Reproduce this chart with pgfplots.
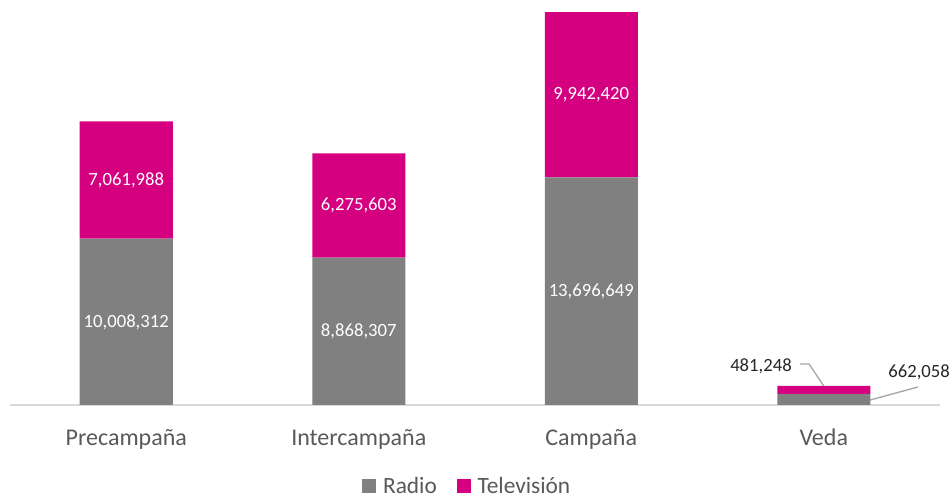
\documentclass[border=0pt]{standalone}
\usepackage{fontspec}
\setmainfont{Carlito}
\usepackage{pgfplots}
\pgfplotsset{compat=1.18}
\definecolor{radio}{HTML}{808080}
\definecolor{tele}{HTML}{D5007F}
\definecolor{txt}{HTML}{595959}
\definecolor{axisgray}{HTML}{D9D9D9}
\definecolor{leader}{HTML}{A6A6A6}
\tikzset{lbl/.style={font=\fontsize{14}{16}\selectfont, text=white},
         olbl/.style={font=\fontsize{14}{16}\selectfont, text=black!85}}

\begin{document}
\begin{tikzpicture}
\begin{axis}[
    at={(0pt,0pt)}, anchor=south west,
    scale only axis, width=697.5pt, height=300pt,
    ybar stacked, bar width=69.75pt,
    xmin=-0.5, xmax=3.5, ymin=0, ymax=24070000,
    axis x line*=bottom, axis y line=none,
    x axis line style={draw=axisgray, line width=1pt, -},
    xtick={0,1,2,3},
    xticklabels={Precampaña,Intercampaña,Campaña,Veda},
    major tick length=0pt,
    xticklabel style={font=\fontsize{18}{20}\selectfont, text=txt, yshift=-14.5pt},
    ytick=\empty, scaled y ticks=false,
    clip=false,
    legend style={at={(axis description cs:0.4914,-0.203)}, anchor=center,
        draw=none, inner sep=0pt, legend columns=2, font=\fontsize{17.5}{19}\selectfont, text=txt,
        nodes={inner sep=1pt},
        /tikz/every even column/.append style={column sep=14pt}},
    legend image code/.code={\fill[#1,draw=none] (0pt,-5.25pt) rectangle (10.5pt,5.25pt);},
]
\addplot[fill=radio, draw=none] coordinates {(0,10008312) (1,8868307) (2,13696649) (3,662058)};
\addlegendentry{\hspace{4pt}Radio}
\addplot[fill=tele, draw=none] coordinates {(0,7061988) (1,6275603) (2,9942420) (3,481248)};
\addlegendentry{\hspace{4pt}Televisión}

\coordinate (r0) at (axis cs:0,5004156);
\coordinate (t0) at (axis cs:0,13539306);
\coordinate (r1) at (axis cs:1,4434154);
\coordinate (t1) at (axis cs:1,12006109);
\coordinate (r2) at (axis cs:2,6848325);
\coordinate (t2) at (axis cs:2,18667859);

\draw[leader, line width=1pt] (axis cs:2.898,2467000) -- (axis cs:2.937,2467000) -- (axis cs:3.0,1143306);
\draw[leader, line width=1pt] (axis cs:3.2,300000) -- (axis cs:3.405,1083000);
\node[olbl] at (axis cs:2.730,2347000) {481,248};
\node[olbl] at (axis cs:3.41,1985000) {662,058};
\end{axis}
\node[lbl] at (r0) {10,008,312};
\node[lbl] at (t0) {7,061,988};
\node[lbl] at (r1) {8,868,307};
\node[lbl] at (t1) {6,275,603};
\node[lbl] at (r2) {13,696,649};
\node[lbl] at (t2) {9,942,420};
\pgfresetboundingbox
\path (-7.5pt,-67.5pt) rectangle (705.75pt,303.75pt);
\end{tikzpicture}
\end{document}
